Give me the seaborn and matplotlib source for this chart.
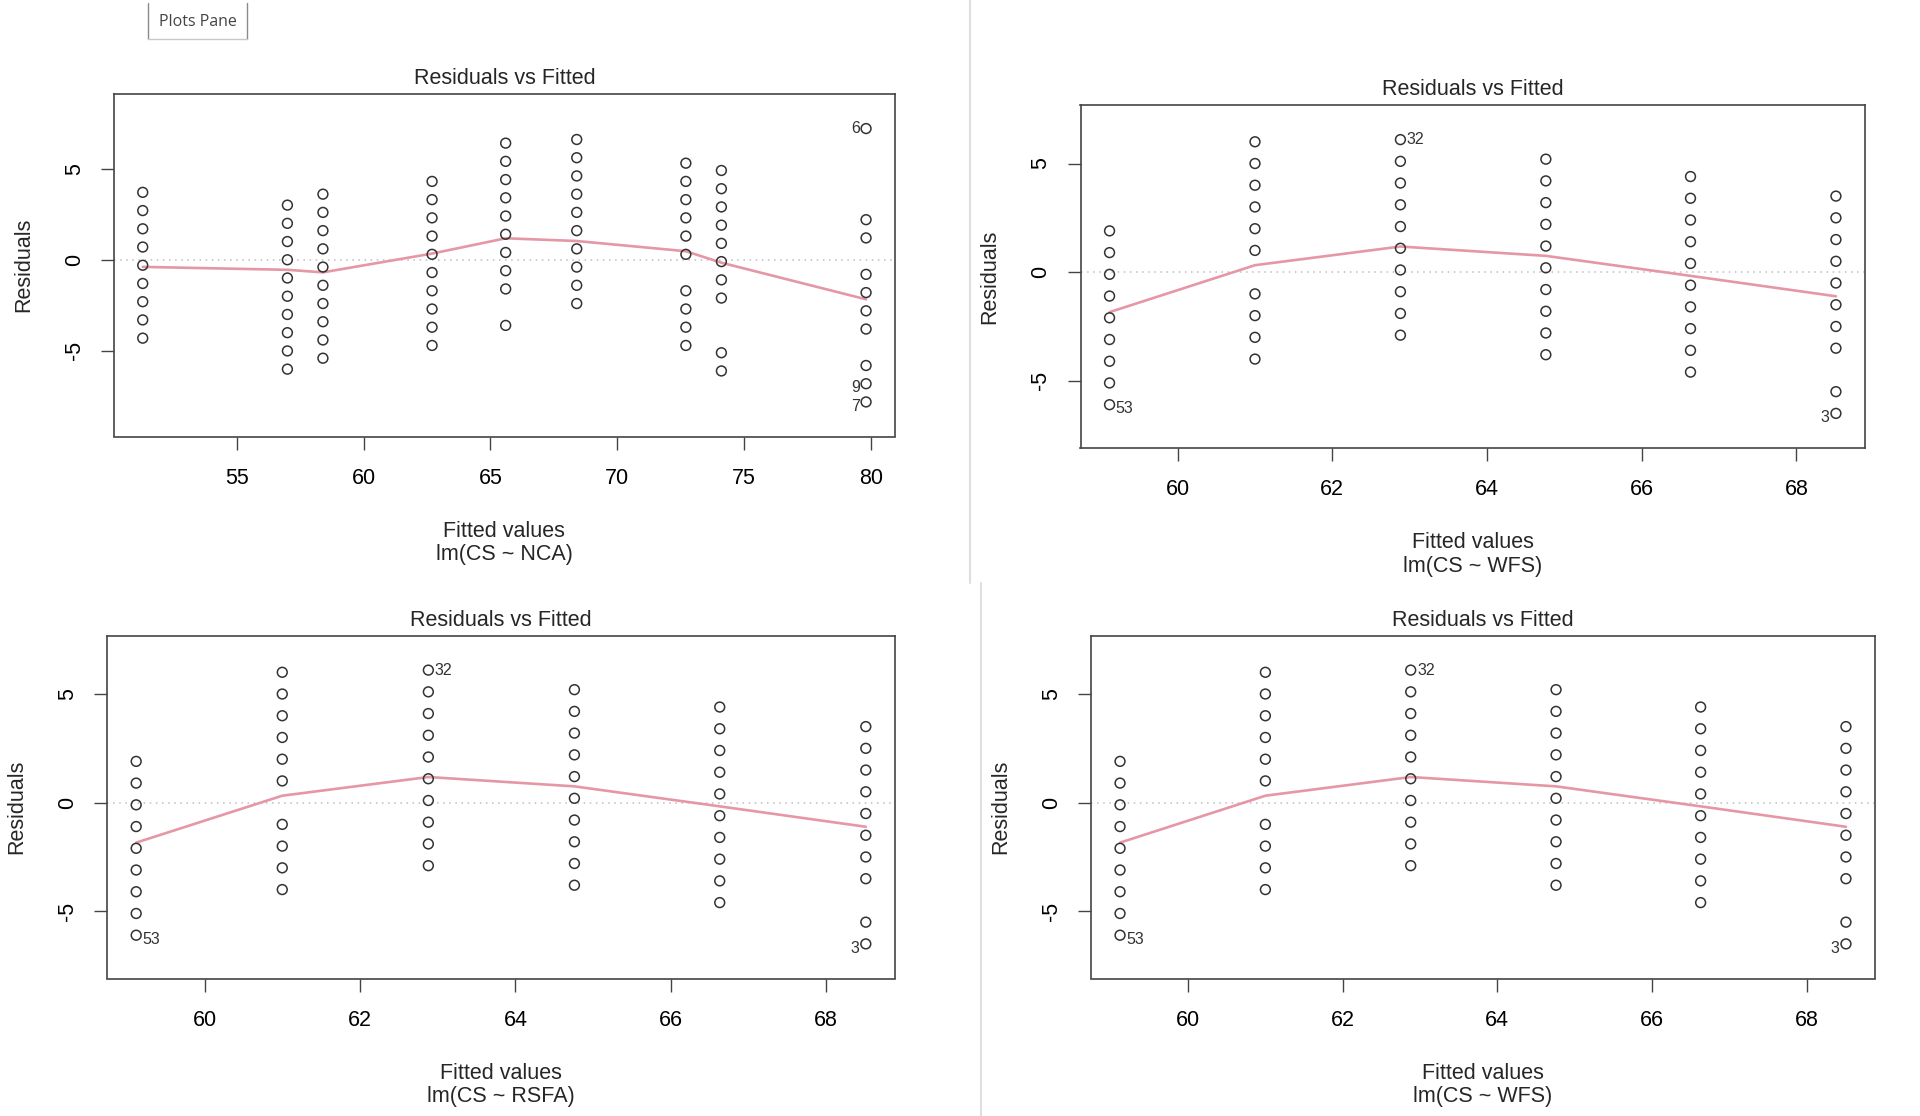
import pandas as pd
import seaborn as sns
import matplotlib.pyplot as plt
from matplotlib.lines import Line2D

# ---- data read off the four "Residuals vs Fitted" panels ----
# lm(CS ~ NCA): one residual column per distinct fitted value
nca_fitted = [51.3, 57.0, 58.4, 62.7, 65.6, 68.4, 72.7, 74.1, 79.8]
nca_resid = [
    [3.7, 2.7, 1.7, 0.7, -0.3, -1.3, -2.3, -3.3, -4.3],
    [3.0, 2.0, 1.0, 0.0, -1.0, -2.0, -3.0, -4.0, -5.0, -6.0],
    [3.6, 2.6, 1.6, 0.6, -0.4, -1.4, -2.4, -3.4, -4.4, -5.4],
    [4.3, 3.3, 2.3, 1.3, 0.3, -0.7, -1.7, -2.7, -3.7, -4.7],
    [6.4, 5.4, 4.4, 3.4, 2.4, 1.4, 0.4, -0.6, -1.6, -3.6],
    [6.6, 5.6, 4.6, 3.6, 2.6, 1.6, 0.6, -0.4, -1.4, -2.4],
    [5.3, 4.3, 3.3, 2.3, 1.3, 0.3, -1.7, -2.7, -3.7, -4.7],
    [4.9, 3.9, 2.9, 1.9, 0.9, -0.1, -1.1, -2.1, -5.1, -6.1],
    [7.2, 2.2, 1.2, -0.8, -1.8, -2.8, -3.8, -5.8, -6.8, -7.8],
]
nca_smooth = [-0.39, -0.55, -0.69, 0.34, 1.18, 1.03, 0.47, -0.16, -2.17]
nca_ids = [("6", 79.8, 7.2), ("9", 79.8, -6.8), ("7", 79.8, -7.8)]
nca_xticks = [55, 60, 65, 70, 75, 80]

# lm(CS ~ WFS) and lm(CS ~ RSFA) give the same picture
wfs_fitted = [59.12, 61.0, 62.88, 64.76, 66.63, 68.51]
wfs_resid = [
    [1.9, 0.9, -0.1, -1.1, -2.1, -3.1, -4.1, -5.1, -6.1],
    [6.0, 5.0, 4.0, 3.0, 2.0, 1.0, -1.0, -2.0, -3.0, -4.0],
    [6.1, 5.1, 4.1, 3.1, 2.1, 1.1, 0.1, -0.9, -1.9, -2.9],
    [5.2, 4.2, 3.2, 2.2, 1.2, 0.2, -0.8, -1.8, -2.8, -3.8],
    [4.4, 3.4, 2.4, 1.4, 0.4, -0.6, -1.6, -2.6, -3.6, -4.6],
    [3.5, 2.5, 1.5, 0.5, -0.5, -1.5, -2.5, -3.5, -5.5, -6.5],
]
wfs_smooth = [-1.84, 0.32, 1.18, 0.75, -0.17, -1.11]
wfs_ids = [("53", 59.12, -6.1), ("32", 62.88, 6.1), ("3", 68.51, -6.5)]
wfs_xticks = [60, 62, 64, 66, 68]

rsfa_fitted, rsfa_resid, rsfa_smooth, rsfa_ids = wfs_fitted, wfs_resid, wfs_smooth, wfs_ids

yticks = [-5, 0, 5]

W, H = 1920, 1116
FONT = "Liberation Sans"

sns.set_theme(style="white")
plt.rcParams["font.family"] = [FONT, "DejaVu Sans"]
plt.rcParams["axes.unicode_minus"] = False


def px_rect(left, top, right, bottom):
    return [left / W, 1 - bottom / H, (right - left) / W, (bottom - top) / H]


def r_range(v, extra=0.0):
    lo, hi = min(v), max(v)
    e = (hi - lo) * extra
    lo, hi = lo - e, hi + e
    d = (hi - lo) * 0.04
    return lo - d, hi + d


def panel(fig, rect, formula, fitted, resid, smooth, ids, xticks):
    ax = fig.add_axes(rect)
    df = pd.DataFrame(
        [(x, r) for x, col in zip(fitted, resid) for r in col],
        columns=["fitted", "resid"],
    )
    ax.axhline(0, color="#bdbdbd", lw=1.1, ls=(0, (1, 3)), zorder=1)
    sns.scatterplot(data=df, x="fitted", y="resid", ax=ax, marker="o",
                    s=50, facecolors="none", edgecolor="#333333",
                    linewidth=1.1, zorder=3)
    sns.lineplot(x=fitted, y=smooth, ax=ax, color="#e597a5", lw=1.9,
                 sort=True, zorder=2)

    xlo, xhi = r_range(df["fitted"])
    ax.set_xlim(xlo, xhi)
    ax.set_ylim(*r_range(df["resid"], 0.08))
    mid = (xlo + xhi) / 2
    for txt, x, y in ids:
        right = x > mid
        ax.annotate(txt, (x, y), xytext=(-4.5 if right else 4.5, -3 if y < 0 else 0),
                    textcoords="offset points", ha="right" if right else "left",
                    va="center", fontsize=11.5, color="#333333")

    ax.set_xticks(xticks)
    ax.set_yticks(yticks)
    ax.set_xlabel("")
    ax.set_ylabel("")
    ax.tick_params(direction="out", length=9.4, width=1, color="#444444",
                   labelsize=15.5, labelcolor="black", pad=13,
                   bottom=True, left=True)
    ax.tick_params(axis="y", labelrotation=90, pad=11.5)
    for lab in ax.get_yticklabels():
        lab.set_va("center")
    for sp in ax.spines.values():
        sp.set_color("#444444")
        sp.set_linewidth(1.2)

    ax.set_title("Residuals vs Fitted", fontsize=15.5, pad=7)
    ax.annotate("Residuals", (0, 0.5), xycoords="axes fraction",
                xytext=(-65, 0), textcoords="offset points",
                rotation=90, ha="center", va="center", fontsize=15.5)
    ax.annotate("Fitted values", (0.5, 0), xycoords="axes fraction",
                xytext=(0, -68.4), textcoords="offset points",
                ha="center", va="center", fontsize=15.5)
    ax.annotate(formula, (0.5, 0), xycoords="axes fraction",
                xytext=(0, -85), textcoords="offset points",
                ha="center", va="center", fontsize=15.5)
    return ax


fig = plt.figure(figsize=(W / 100, H / 100), dpi=100, facecolor="white")

panel(fig, px_rect(113.8, 94, 895, 436.5), "lm(CS ~ NCA)",
      nca_fitted, nca_resid, nca_smooth, nca_ids, nca_xticks)
panel(fig, px_rect(1080.5, 105, 1865, 448), "lm(CS ~ WFS)",
      wfs_fitted, wfs_resid, wfs_smooth, wfs_ids, wfs_xticks)
panel(fig, px_rect(107, 635.5, 895, 978.5), "lm(CS ~ RSFA)",
      rsfa_fitted, rsfa_resid, rsfa_smooth, rsfa_ids, wfs_xticks)
panel(fig, px_rect(1091, 635.5, 1875, 978.5), "lm(CS ~ WFS)",
      wfs_fitted, wfs_resid, wfs_smooth, wfs_ids, wfs_xticks)

# pane dividers
fig.add_artist(Line2D([969.5 / W] * 2, [1, 1 - 583 / H], color="#dcdfe3", lw=1.5))
fig.add_artist(Line2D([981 / W] * 2, [1 - 583 / H, 0], color="#dcdfe3", lw=1.5))

# "Plots Pane" tab
for xs, ys, c in [([148, 148], [3, 39], "#8a8a8a"),
                  ([247, 247], [3, 39], "#8a8a8a"),
                  ([148, 247], [39, 39], "#c8c8c8")]:
    fig.add_artist(Line2D([x / W for x in xs], [1 - y / H for y in ys], color=c, lw=1))
fig.text(197.5 / W, 1 - 21.5 / H, "Plots Pane", ha="center", va="center",
         fontsize=11.5, color="#444444", family=["Open Sans", "DejaVu Sans"])

fig.savefig("out.png", dpi=100, facecolor="white")
